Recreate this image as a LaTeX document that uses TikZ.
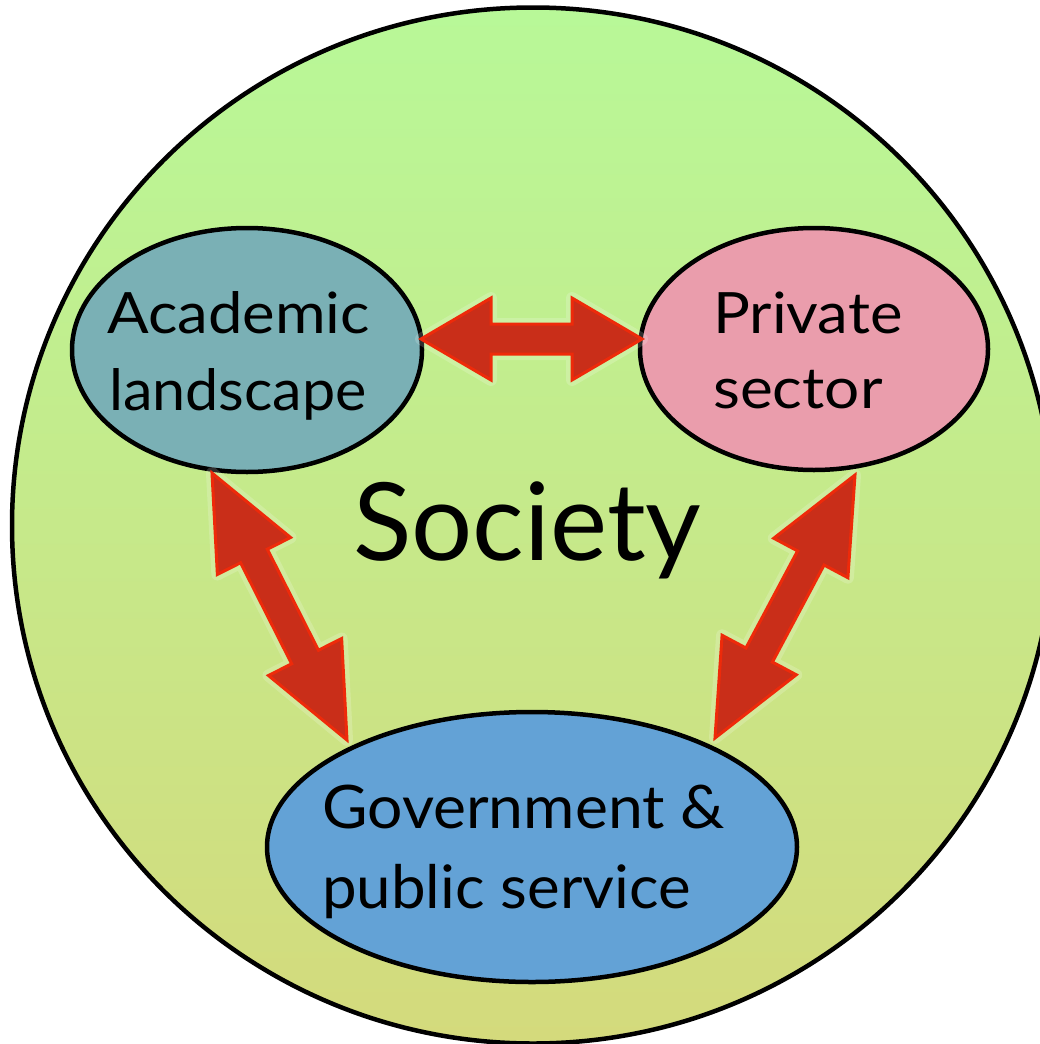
\documentclass[tikz,border=0pt]{standalone}
\usepackage{fontspec}
\usepackage{graphicx}
\setmainfont{Lato}
\usetikzlibrary{calc,shapes.geometric}
\definecolor{bgtop}{HTML}{B8F898}
\definecolor{bgbot}{HTML}{D4DA7C}
\definecolor{acadcol}{HTML}{7AB0B5}
\definecolor{privcol}{HTML}{EA9DAC}
\definecolor{govcol}{HTML}{63A2D6}
\definecolor{arrfill}{HTML}{C92E19}
\definecolor{arredge}{HTML}{EE2A0A}
\tikzset{
  party/.style={ellipse, draw=black, line width=4.5pt, inner sep=0pt},
  lbl/.style={anchor=base west, inner sep=0pt, font=\fontsize{57}{60}\selectfont},
  govlbl/.style={lbl, font=\fontsize{60}{64}\selectfont},
  arrowblk/.style={fill=arrfill, draw=arredge, line width=3pt, line join=miter},
  arrowglow/.style={draw=white, line width=12pt, opacity=0.18, line join=round, xshift=4pt, yshift=-4pt},
}
\newcommand\wide[2]{\scalebox{#1}[1]{#2}}
% #2 from, #3 to, #4 head length, #5 head half-width, #6 shaft half-width
\newcommand\dblarrow[6][arrowblk]{%
  \draw[#1] let \p1=(#2), \p2=(#3), \n1={atan2(\y2-\y1,\x2-\x1)} in
    (\p1) -- ($(\p1)+(\n1:#4)+(\n1+90:#5)$) -- ($(\p1)+(\n1:#4)+(\n1+90:#6)$)
    -- ($(\p2)+(\n1+180:#4)+(\n1+90:#6)$) -- ($(\p2)+(\n1+180:#4)+(\n1+90:#5)$)
    -- (\p2) -- ($(\p2)+(\n1+180:#4)+(\n1-90:#5)$) -- ($(\p2)+(\n1+180:#4)+(\n1-90:#6)$)
    -- ($(\p1)+(\n1:#4)+(\n1-90:#6)$) -- ($(\p1)+(\n1:#4)+(\n1-90:#5)$) -- cycle;}
\begin{document}
\begin{tikzpicture}[x=1pt,y=-1pt]
\useasboundingbox (0,0) rectangle (1040,1044);
\clip (0,0) rectangle (1040,1044);
\node[ellipse, draw=black, line width=4.5pt, inner sep=0pt, minimum width=1042pt, minimum height=1036pt,
      top color=bgtop, bottom color=bgbot] (society) at (533,525.5) {};
\node[lbl, font=\fontsize{108}{110}\selectfont] (societylbl) at (353,560) {Society};

\node[party, fill=acadcol, minimum width=350pt, minimum height=244pt] (acad) at (247,350) {};
\node[party, fill=privcol, minimum width=348pt, minimum height=242pt] (priv) at (814,349) {};
\node[party, fill=govcol, minimum width=530pt, minimum height=270pt] (gov) at (532,847) {};

\node[lbl] (acad1) at (107,333) {\wide{1.08}{Academic}};
\node[lbl] (acad2) at (109,410) {\wide{1.04}{landscape}};
\node[lbl] (priv1) at (713,333) {\wide{1.08}{Private}};
\node[lbl] (priv2) at (713,408) {\wide{1.09}{sector}};
\node[govlbl] (gov1) at (322,828) {\wide{1.04}{Government \&}};
\node[govlbl] (gov2) at (322,908) {\wide{1.03}{public service}};

\coordinate (acadE) at (421,339);
\coordinate (privW) at (642,339);
\coordinate (acadS) at (212,473);
\coordinate (govNW) at (347,740);
\coordinate (privS) at (855,475);
\coordinate (govNE) at (715,738);

\dblarrow[arrowglow]{acadE}{privW}{70pt}{41pt}{15pt}
\dblarrow[arrowglow]{acadS}{govNW}{93pt}{41pt}{15pt}
\dblarrow[arrowglow]{privS}{govNE}{94pt}{42pt}{15pt}
\dblarrow{acadE}{privW}{70pt}{41pt}{15pt}
\dblarrow{acadS}{govNW}{93pt}{41pt}{15pt}
\dblarrow{privS}{govNE}{94pt}{42pt}{15pt}
\end{tikzpicture}
\end{document}
